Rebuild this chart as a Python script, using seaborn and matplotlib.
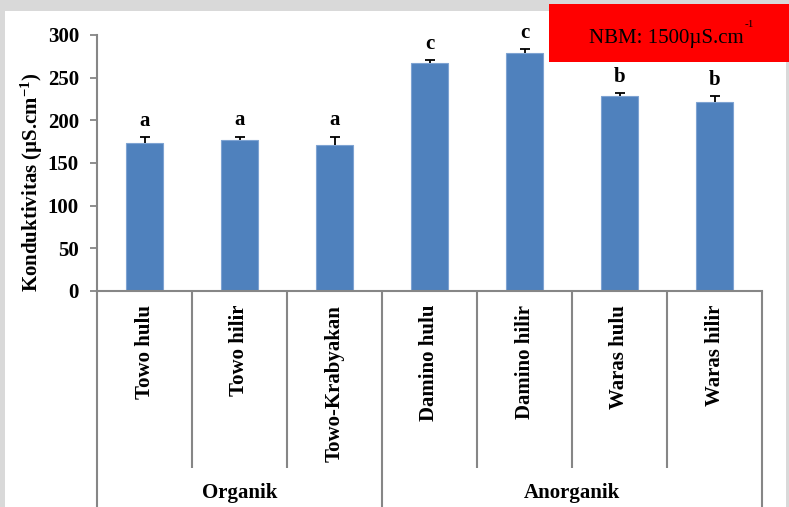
import numpy as np
import pandas as pd
import matplotlib
matplotlib.use("Agg")
import matplotlib.pyplot as plt
import matplotlib.transforms as mtransforms
from matplotlib.patches import Rectangle
import seaborn as sns

# Conductivity per sampling site (mean with upper standard error)
sites = ["Towo hulu", "Towo hilir", "Towo-Krabyakan", "Damino hulu",
         "Damino hilir", "Waras hulu", "Waras hilir"]
groups = ["Organik", "Organik", "Organik", "Anorganik",
          "Anorganik", "Anorganik", "Anorganik"]
conductivity = [174, 177, 171, 267, 279, 228, 222]
std_err = [6.5, 4.0, 10.0, 3.5, 5.0, 3.5, 6.5]
letters = ["a", "a", "a", "c", "c", "b", "b"]
y_ticks = [0, 50, 100, 150, 200, 250, 300]
y_label = "Konduktivitas (µS.cm$^{-1}$)"
standard_text = "NBM: 1500µS.cm"
standard_sup = "-1"

sns.set_theme(style="white")
plt.rcParams["font.family"] = ["Liberation Serif", "DejaVu Serif"]
plt.rcParams["mathtext.default"] = "regular"
for key in ["text.color", "axes.labelcolor", "xtick.labelcolor", "ytick.labelcolor"]:
    plt.rcParams[key] = "black"

W, H = 789, 507
AXIS_GRAY = "#868686"

df = pd.DataFrame({"Lokasi": sites, "Konduktivitas": conductivity})

fig = plt.figure(figsize=(W / 100, H / 100), dpi=100, facecolor="#d9d9d9")
# white chart panel inside the gray page border
fig.patches.append(Rectangle((5 / W, 0), 781 / W, 496 / H, transform=fig.transFigure,
                             facecolor="white", edgecolor="none", zorder=-1))

ax = fig.add_axes([97 / W, (H - 291) / H, 665 / W, 256 / H])
ax.set_facecolor("none")

sns.barplot(data=df, x="Lokasi", y="Konduktivitas", color="#4f81bd", saturation=1,
            width=0.39, edgecolor="#7ea3d2", linewidth=0.8, errorbar=None, ax=ax)

xpos = np.arange(len(sites))
eb = ax.errorbar(xpos, conductivity, yerr=[np.zeros(len(sites)), std_err], fmt="none",
                 ecolor="black", elinewidth=1.3, capsize=3.6, capthick=1.3, zorder=3)
eb[1][0].set_visible(False)  # plus-direction error bars only

for x, v, e, lt in zip(xpos, conductivity, std_err, letters):
    ax.annotate(lt, (x, v + e), xytext=(0, 8), textcoords="offset points",
                ha="center", va="baseline", fontsize=15, fontweight="bold")

ax.set_xlim(-0.5, len(sites) - 0.5)
ax.set_ylim(0, 300)
ax.set_yticks(y_ticks)
ax.tick_params(axis="y", direction="out", length=5, width=1.3, color=AXIS_GRAY,
               pad=8, labelsize=15, left=True)
ax.tick_params(axis="x", length=0, pad=10, labelsize=15, labelrotation=90)
for lbl in ax.get_yticklabels() + ax.get_xticklabels():
    lbl.set_fontweight("bold")

ax.set_xlabel("")
ax.set_ylabel(y_label, fontsize=15, fontweight="bold")
ax.yaxis.set_label_coords(-0.078, 0.426)

for side in ["top", "right"]:
    ax.spines[side].set_visible(False)
for side in ["left", "bottom"]:
    ax.spines[side].set_color(AXIS_GRAY)
    ax.spines[side].set_linewidth(1.5)

# two-level category axis: site dividers and group dividers
trans = mtransforms.blended_transform_factory(ax.transData, ax.transAxes)
bounds = np.arange(len(sites) + 1) - 0.5
group_edges = [0] + [i for i in range(1, len(groups)) if groups[i] != groups[i - 1]] + [len(groups)]
for b in bounds:
    idx = int(b + 0.5)
    y_end = -0.85 if idx in group_edges else -0.691
    ax.plot([b, b], [0, y_end], transform=trans, color=AXIS_GRAY, lw=1.5,
            clip_on=False, solid_capstyle="butt")
for g0, g1 in zip(group_edges[:-1], group_edges[1:]):
    ax.text((g0 + g1 - 1) / 2, -0.789, groups[g0], transform=trans, ha="center",
            va="center", fontsize=15, fontweight="bold")

# reference standard box
fig.patches.append(Rectangle((549 / W, (H - 62) / H), 245 / W, 58 / H,
                             transform=fig.transFigure, facecolor="#ff0000",
                             edgecolor="none", zorder=5))
fig.text(666 / W, 1 - 43 / H, standard_text, ha="center", va="baseline",
         fontsize=15, zorder=6)
fig.text(745 / W, 1 - 27 / H, standard_sup, ha="left", va="baseline",
         fontsize=8, zorder=6)

fig.savefig("out.png", dpi=100, facecolor=fig.get_facecolor())
